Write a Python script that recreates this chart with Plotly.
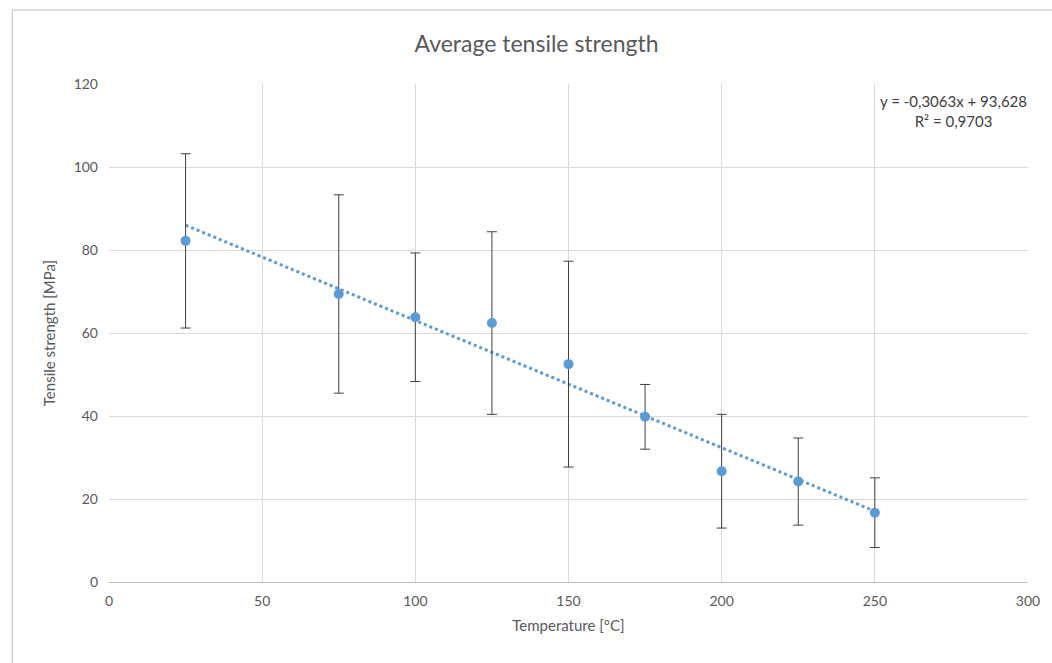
import plotly.graph_objects as go

temperature = [25, 75, 100, 125, 150, 175, 200, 225, 250]
strength = [82.2, 69.4, 63.8, 62.4, 52.5, 39.8, 26.7, 24.2, 16.7]
error = [21.0, 23.9, 15.5, 22.0, 24.8, 7.8, 13.7, 10.5, 8.4]

slope = -0.3063
intercept = 93.628
trend_x = [25, 250]
trend_y = [slope * x + intercept for x in trend_x]

W, H = 1052, 663
L, R, T, B = 109, 21, 84, 81
pw, ph = W - L - R, H - T - B

font = "Lato, 'Open Sans', sans-serif"
gray = "#595959"

fig = go.Figure()
fig.add_trace(go.Scatter(
    x=trend_x, y=trend_y, mode="lines",
    line=dict(color="#5b9bd5", width=3, dash="dot"),
    showlegend=False, hoverinfo="skip"))
fig.add_trace(go.Scatter(
    x=temperature, y=strength, mode="markers",
    marker=dict(color="#5b9bd5", size=10),
    error_y=dict(type="data", array=error, visible=True,
                 color="#404040", thickness=1, width=5),
    showlegend=False))

def px_x(p):
    return (p - L) / pw

def px_y(p):
    return (H - B - p) / ph

fig.add_shape(type="rect", xref="paper", yref="paper",
              x0=px_x(12), x1=px_x(1062), y0=px_y(10), y1=px_y(672),
              line=dict(color="#bfbfbf", width=1), layer="below")

fig.add_annotation(xref="paper", yref="paper", x=px_x(1032), y=px_y(90),
                   xanchor="right", yanchor="top", showarrow=False,
                   text="y = -0,3063x + 93,628<br>R² = 0,9703", align="center",
                   font=dict(family=font, size=15, color="#404040"))

fig.update_layout(
    width=W, height=H,
    margin=dict(l=L, r=R, t=T, b=B),
    paper_bgcolor="white", plot_bgcolor="white",
    title=dict(text="Average tensile strength", x=0.51, xanchor="center",
               y=1 - 44 / H, yanchor="middle",
               font=dict(family=font, size=23, color=gray)),
    font=dict(family=font, size=14, color=gray),
    xaxis=dict(range=[0, 300], dtick=50, showgrid=True, gridcolor="#d9d9d9",
               zeroline=False, showline=True, linecolor="#bfbfbf",
               ticks="", ticklabelstandoff=6,
               title=dict(text="Temperature [°C]", standoff=12,
                          font=dict(family=font, size=15, color=gray))),
    yaxis=dict(range=[0, 120], dtick=20, showgrid=True, gridcolor="#d9d9d9",
               zeroline=False, showline=False, ticks="",
               ticklabelstandoff=10,
               title=dict(text="Tensile strength [MPa]", standoff=14,
                          font=dict(family=font, size=15, color=gray))),
)

fig.write_html("out.html", config={"displayModeBar": False},
               post_script="document.body.style.margin='0';document.body.style.overflow='hidden';")
